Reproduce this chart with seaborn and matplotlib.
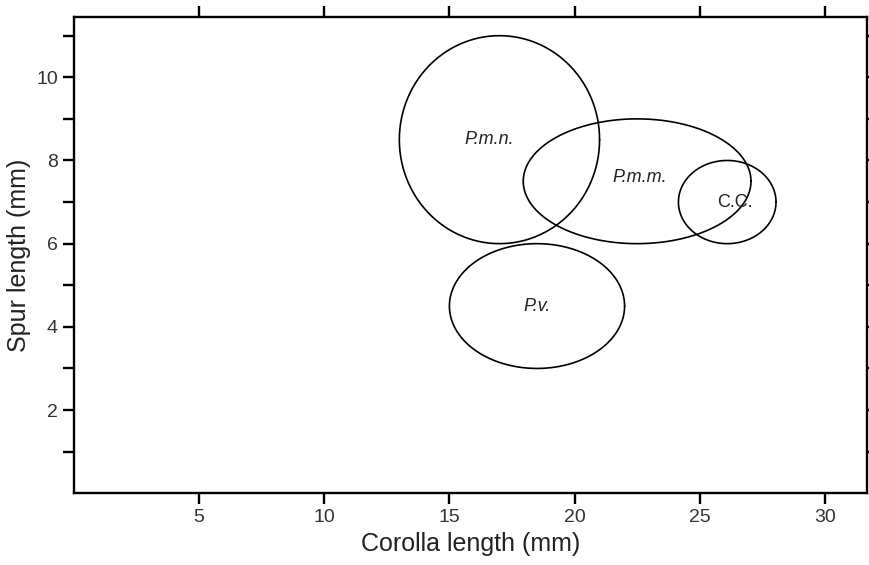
import numpy as np
import pandas as pd
import matplotlib
matplotlib.use("Agg")
import matplotlib.pyplot as plt
import seaborn as sns

# Ellipse data: taxon, centre (corolla, spur) and full extents (mm)
taxa = ["P.m.n.", "P.m.m.", "C.C.", "P.v."]
corolla_center = [17.0, 22.5, 26.1, 18.5]
spur_center = [8.5, 7.5, 7.0, 4.5]
corolla_range = [8.0, 9.1, 3.9, 7.0]
spur_range = [5.0, 3.0, 2.0, 3.0]
italic = [True, True, False, True]
label_x = [16.6, 22.6, 26.4, 18.5]
label_y = [8.5, 7.6, 7.0, 4.5]

x_ticks = [5, 10, 15, 20, 25, 30]
y_ticks = [2, 4, 6, 8, 10]
y_minor = [1, 3, 5, 7, 9, 11]

# build outline points for each ellipse
t = np.linspace(0, 2 * np.pi, 361)
rows = []
for name, cx, cy, w, h in zip(taxa, corolla_center, spur_center, corolla_range, spur_range):
    for i, a in enumerate(t):
        rows.append({"taxon": name, "order": i,
                     "corolla": cx + w / 2 * np.cos(a),
                     "spur": cy + h / 2 * np.sin(a)})
df = pd.DataFrame(rows)

sns.set_style("ticks")
plt.rcParams['font.family'] = ['Liberation Sans', 'DejaVu Sans']

fig = plt.figure(figsize=(8.7, 5.65), dpi=100)
ax = fig.add_axes([0.085, 0.127, 0.912, 0.843])

for name in taxa:
    sub = df[df["taxon"] == name]
    sns.lineplot(data=sub, x="corolla", y="spur", sort=False, estimator=None,
                 color="black", linewidth=1.2, ax=ax)

for name, lx, ly, it in zip(taxa, label_x, label_y, italic):
    ax.text(lx, ly, name, fontsize=13, ha="center", va="center",
            style="italic" if it else "normal", color="#222222")

ax.set_xlim(0, 31.7)
ax.set_ylim(0, 11.45)
ax.set_xticks(x_ticks)
ax.set_yticks(y_ticks)
ax.set_yticks(y_minor, minor=True)

for s in ax.spines.values():
    s.set_visible(True)
    s.set_linewidth(1.7)
    s.set_color("black")

ax.tick_params(axis="x", which="major", direction="out", length=8, width=1.7,
               top=True, bottom=True, labelsize=14, colors="black", labelcolor="#333333")
ax.tick_params(axis="y", which="both", direction="out", length=8, width=1.7,
               left=True, right=True, labelsize=14, colors="black", labelcolor="#333333")

ax.set_xlabel("Corolla length (mm)", fontsize=18, color="#222222")
ax.set_ylabel("Spur length (mm)", fontsize=18, color="#222222")

fig.savefig("out.png", dpi=100)
